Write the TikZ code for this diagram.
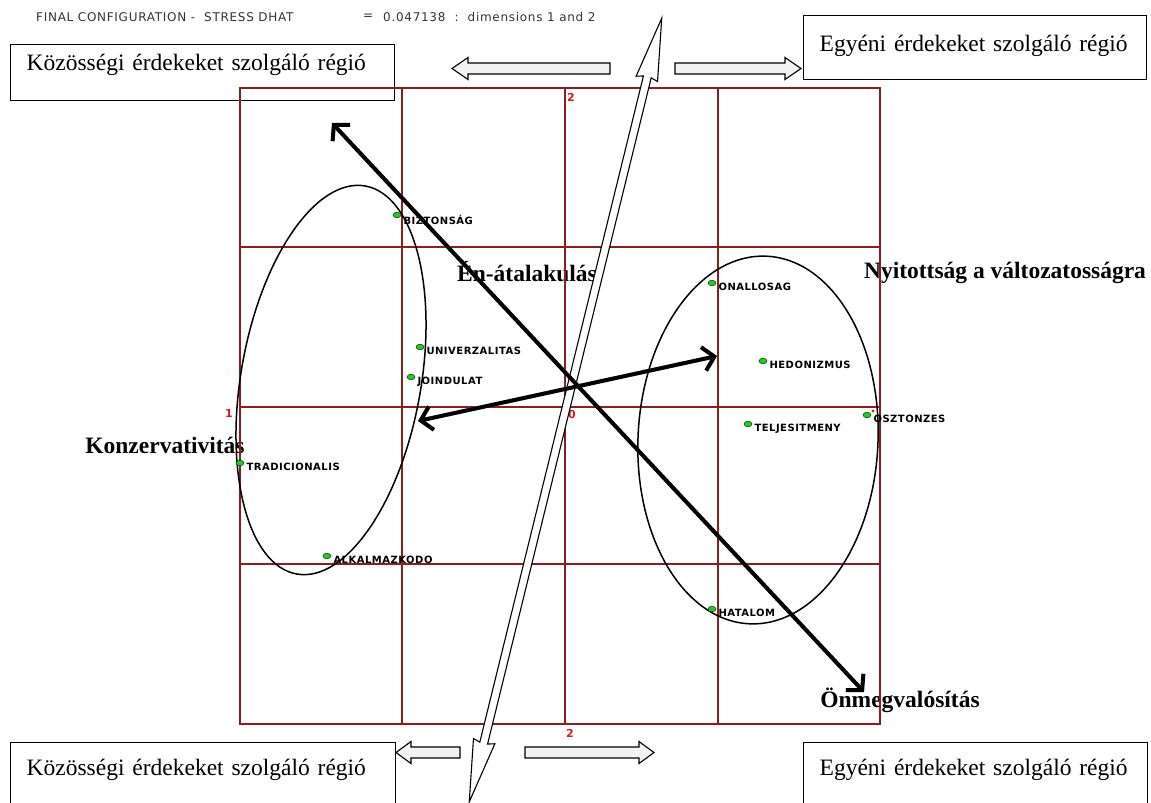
\documentclass[tikz,border=0pt]{standalone}
\usepackage{fontspec}
\setmainfont{Liberation Serif}
\newfontfamily\hdrfont[LetterSpace=6]{DejaVu Sans}
\newfontfamily\ptfont[LetterSpace=5]{DejaVu Sans}
\usetikzlibrary{arrows.meta,shapes.geometric,positioning}
\definecolor{gridred}{RGB}{140,30,30}
\definecolor{axisred}{RGB}{215,25,25}
\definecolor{ptgreen}{RGB}{40,200,40}
\tikzset{
  gridline/.style={gridred, line width=1.1pt},
  axislbl/.style={axisred, font=\hdrfont\bfseries\fontsize{11}{11}\selectfont, inner sep=0pt},
  ptdot/.style={ellipse, fill=ptgreen, draw=green!35!black, line width=0.6pt,
    minimum width=8pt, minimum height=5.5pt, inner sep=0pt},
  ptlabel/.style={font=\ptfont\bfseries\fontsize{10}{10}\selectfont, inner sep=0pt, anchor=north west},
  regionlbl/.style={font=\bfseries\fontsize{23.5}{26}\selectfont, inner sep=0pt},
  regbox/.style={draw, line width=1.3pt, anchor=north west, inner ysep=0pt, inner xsep=16pt,
    align=left, font=\fontsize{23.5}{26}\selectfont},
  hollow/.style={draw, line width=1.1pt, fill=gray!10, line join=miter},
  bigarrow/.style={line width=4pt, line cap=round,
    {Straight Barb[length=11pt,width=24pt]}-{Straight Barb[length=11pt,width=24pt]}},
  arrowshade/.style={bigarrow, black!25, opacity=0.6, shift={(2.5,3.5)}},
  blob/.style={line width=1.5pt},
}
\begin{document}
\begin{tikzpicture}[x=1pt,y=-1pt]
\useasboundingbox (0,0) rectangle (1151,803);

% header line
\node[anchor=west, inner sep=0pt, font=\hdrfont\fontsize{12}{12}\selectfont, text=black!80] (hdrA) at (36,17) {FINAL CONFIGURATION -\ \ STRESS DHAT};
\node[anchor=west, inner sep=0pt, font=\hdrfont\fontsize{12}{12}\selectfont, text=black!80] (hdrB) at (363,17) {=};
\node[anchor=west, inner sep=0pt, font=\hdrfont\fontsize{12}{12}\selectfont, text=black!80] (hdrC) at (383,17) {0.047138\ \ :\ \ dimensions 1 and 2};

% region boxes
\node[regbox, text width=352pt, text height=26pt, text depth=30pt] (kozTop) at (10,44) {Közösségi érdekeket szolgáló régió};
\node[regbox, text width=311pt, text height=36pt, text depth=28pt] (egyTop) at (803,15) {Egyéni érdekeket szolgáló régió};
\node[regbox, text width=353pt, text height=33pt, text depth=40pt] (kozBot) at (10,742) {Közösségi érdekeket szolgáló régió};
\node[regbox, text width=312pt, text height=33pt, text depth=40pt] (egyBot) at (803,742) {Egyéni érdekeket szolgáló régió};

% value labels
\node[regionlbl] (enlbl) at (527,272) {Én-átalakulás};
\node[regionlbl] (nyitlbl) at (1005,273) {Nyitottság a változatosságra};
\node[regionlbl] (konzlbl) at (165,445) {Konzervativitás};
\node[regionlbl] (onmlbl) at (900,700) {Önmegvalósítás};

% grid
\draw[gridline] (240,88) rectangle (880,724);
\foreach \x in {402,565,718}
  \draw[gridline] (\x,88) -- (\x,724);
\foreach \y in {247,407,564}
  \draw[gridline] (240,\y) -- (880,\y);
\node[axislbl, anchor=west] (ax2t) at (567,97) {2};
\node[axislbl, anchor=west] (ax2b) at (566,733) {2};
\node[axislbl] (ax1) at (229,413) {1};
\node[axislbl, anchor=west] (ax0) at (568,414) {0};
\fill[axisred] (873,411) circle (1.6);

% short hollow arrows
\draw[hollow] (610,63) -- (468,63) -- (468,57.5) -- (452,68.5) -- (468,79.5) -- (468,74) -- (610,74) -- cycle;
\draw[hollow] (675,63) -- (785,63) -- (785,57.5) -- (801,68.5) -- (785,79.5) -- (785,74) -- (675,74) -- cycle;
\draw[hollow] (460,747) -- (411,747) -- (411,741.5) -- (396,752.5) -- (411,763.5) -- (411,758) -- (460,758) -- cycle;
\draw[hollow] (525,747) -- (639,747) -- (639,741.5) -- (654,752.5) -- (639,763.5) -- (639,758) -- (525,758) -- cycle;

% long hollow arrow
\begin{scope}[shift={(565.5,410)}, rotate=76.2]
  \draw[hollow, fill=white] (-403.5,0) -- (-341,11) -- (-343,4) -- (343,4) -- (341,11) -- (403.5,0)
    -- (341,-11) -- (343,-4) -- (-343,-4) -- (-341,-11) -- cycle;
\end{scope}

% clusters
\draw[blob, rotate around={-10:(331,380)}] (331,380) ellipse [x radius=90, y radius=197];
\draw[blob, rotate around={-2.7:(758,440)}] (758,440) ellipse [x radius=120, y radius=184];

% points
\node[ptdot] (bizt) at (397,215) {};
\node[ptlabel] at ([xshift=2pt]bizt.east) {BIZTONSÁG};
\node[ptdot] (univ) at (420,347) {};
\node[ptlabel] at ([xshift=2pt]univ.east) {UNIVERZALITAS};
\node[ptdot] (joind) at (411,377) {};
\node[ptlabel] at ([xshift=2pt]joind.east) {JOINDULAT};
\node[ptdot] (trad) at (240,463) {};
\node[ptlabel] at ([xshift=2pt]trad.east) {TRADICIONALIS};
\node[ptdot] (alk) at (327,556) {};
\node[ptlabel] at ([xshift=2pt]alk.east) {ALKALMAZKODO};
\node[ptdot] (onal) at (712,283) {};
\node[ptlabel] at ([xshift=2pt]onal.east) {ONALLOSAG};
\node[ptdot] (hedo) at (763,361) {};
\node[ptlabel] at ([xshift=2pt]hedo.east) {HEDONIZMUS};
\node[ptdot] (oszt) at (867,415) {};
\node[ptlabel] at ([xshift=2pt]oszt.east) {OSZTONZES};
\node[ptdot] (telj) at (748,424) {};
\node[ptlabel] at ([xshift=2pt]telj.east) {TELJESITMENY};
\node[ptdot] (hatal) at (712,609) {};
\node[ptlabel] at ([xshift=2pt]hatal.east) {HATALOM};

% thick arrows
\coordinate (selfA) at (332,123);
\coordinate (selfB) at (864,692);
\coordinate (consA) at (418,421);
\coordinate (openB) at (717,356);
\draw[arrowshade] (selfA) -- (selfB);
\draw[arrowshade] (consA) -- (openB);
\draw[bigarrow] (selfA) -- (selfB);
\draw[bigarrow] (consA) -- (openB);
\end{tikzpicture}
\end{document}
